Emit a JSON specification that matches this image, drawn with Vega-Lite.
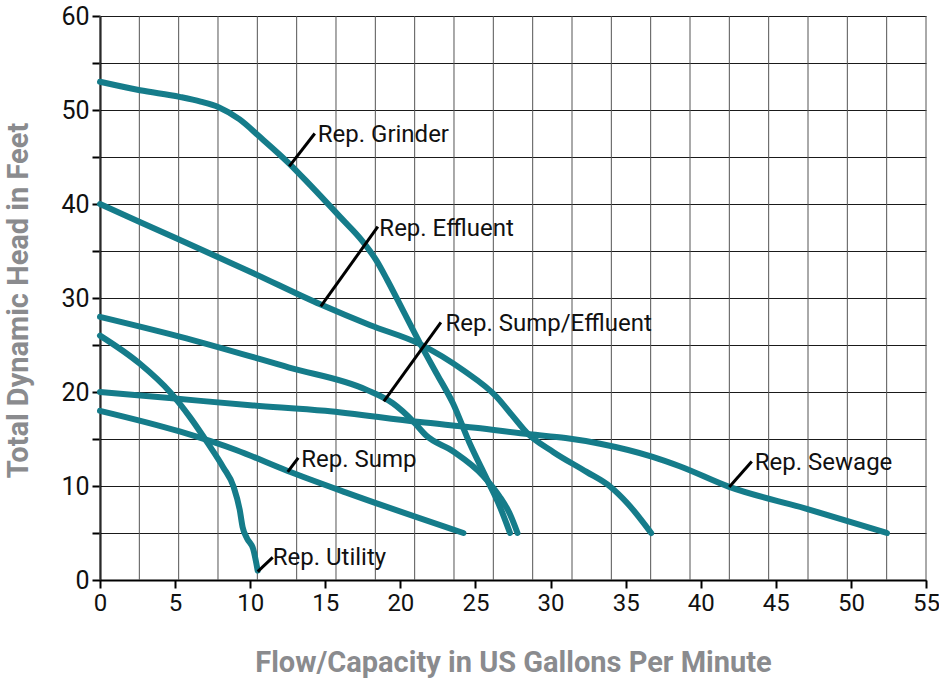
{
  "$schema": "https://vega.github.io/schema/vega-lite/v6.json",
  "width": 826,
  "height": 564,
  "autosize": "none",
  "padding": {"left": 100, "top": 16, "right": 13, "bottom": 99},
  "background": "white",
  "config": {"view": {"stroke": null}},
  "datasets": {
    "curves": [
      {"s": "Grinder", "x": 0, "y": 53}, {"s": "Grinder", "x": 2.66, "y": 52.1}, {"s": "Grinder", "x": 5.3, "y": 51.4}, {"s": "Grinder", "x": 6.7, "y": 50.9}, {"s": "Grinder", "x": 7.9, "y": 50.3}, {"s": "Grinder", "x": 9.3, "y": 49}, {"s": "Grinder", "x": 10.6, "y": 47.2}, {"s": "Grinder", "x": 12.6, "y": 44.3}, {"s": "Grinder", "x": 14, "y": 42}, {"s": "Grinder", "x": 16, "y": 38.6}, {"s": "Grinder", "x": 17.5, "y": 36}, {"s": "Grinder", "x": 18.4, "y": 34}, {"s": "Grinder", "x": 19.1, "y": 32}, {"s": "Grinder", "x": 20.2, "y": 28.6}, {"s": "Grinder", "x": 21.3, "y": 25.2}, {"s": "Grinder", "x": 22.4, "y": 22}, {"s": "Grinder", "x": 23.5, "y": 18.8}, {"s": "Grinder", "x": 24.6, "y": 14.6}, {"s": "Grinder", "x": 25.8, "y": 10.6}, {"s": "Grinder", "x": 26.6, "y": 7.9}, {"s": "Grinder", "x": 27.3, "y": 5},
      {"s": "Effluent", "x": 0, "y": 40}, {"s": "Effluent", "x": 5, "y": 36.4}, {"s": "Effluent", "x": 10, "y": 32.8}, {"s": "Effluent", "x": 14.7, "y": 29.3}, {"s": "Effluent", "x": 18, "y": 27.1}, {"s": "Effluent", "x": 21.3, "y": 25.1}, {"s": "Effluent", "x": 24.2, "y": 22.3}, {"s": "Effluent", "x": 26.4, "y": 19.5}, {"s": "Effluent", "x": 27.5, "y": 17.4}, {"s": "Effluent", "x": 28.4, "y": 15.7}, {"s": "Effluent", "x": 30.2, "y": 13.6}, {"s": "Effluent", "x": 32.4, "y": 11.5}, {"s": "Effluent", "x": 34, "y": 9.9}, {"s": "Effluent", "x": 35.1, "y": 8.2}, {"s": "Effluent", "x": 36.7, "y": 5},
      {"s": "SumpEffluent", "x": 0, "y": 28}, {"s": "SumpEffluent", "x": 5.3, "y": 25.9}, {"s": "SumpEffluent", "x": 12.6, "y": 22.6}, {"s": "SumpEffluent", "x": 17.8, "y": 20.2}, {"s": "SumpEffluent", "x": 19.5, "y": 18.8}, {"s": "SumpEffluent", "x": 20.9, "y": 16.8}, {"s": "SumpEffluent", "x": 21.7, "y": 15.4}, {"s": "SumpEffluent", "x": 23.5, "y": 13.7}, {"s": "SumpEffluent", "x": 25.5, "y": 11.1}, {"s": "SumpEffluent", "x": 26.6, "y": 8.9}, {"s": "SumpEffluent", "x": 27.3, "y": 7}, {"s": "SumpEffluent", "x": 27.8, "y": 5},
      {"s": "Sewage", "x": 0, "y": 20}, {"s": "Sewage", "x": 5, "y": 19.3}, {"s": "Sewage", "x": 10, "y": 18.6}, {"s": "Sewage", "x": 15, "y": 18}, {"s": "Sewage", "x": 21.3, "y": 16.8}, {"s": "Sewage", "x": 25, "y": 16.2}, {"s": "Sewage", "x": 28.6, "y": 15.5}, {"s": "Sewage", "x": 31, "y": 15.1}, {"s": "Sewage", "x": 33.3, "y": 14.5}, {"s": "Sewage", "x": 36.8, "y": 13.1}, {"s": "Sewage", "x": 38.6, "y": 12.1}, {"s": "Sewage", "x": 41.9, "y": 9.9}, {"s": "Sewage", "x": 47, "y": 7.6}, {"s": "Sewage", "x": 52.4, "y": 5},
      {"s": "Sump", "x": 0, "y": 18}, {"s": "Sump", "x": 5.3, "y": 15.8}, {"s": "Sump", "x": 9.1, "y": 13.8}, {"s": "Sump", "x": 12.5, "y": 11.6}, {"s": "Sump", "x": 16.4, "y": 9.3}, {"s": "Sump", "x": 24.2, "y": 5},
      {"s": "Utility", "x": 0, "y": 26}, {"s": "Utility", "x": 2.66, "y": 23}, {"s": "Utility", "x": 4.66, "y": 20}, {"s": "Utility", "x": 6, "y": 17.3}, {"s": "Utility", "x": 7.2, "y": 14.5}, {"s": "Utility", "x": 8.2, "y": 12}, {"s": "Utility", "x": 8.9, "y": 9.9}, {"s": "Utility", "x": 9.3, "y": 7.5}, {"s": "Utility", "x": 9.5, "y": 5.6}, {"s": "Utility", "x": 9.8, "y": 4.4}, {"s": "Utility", "x": 10.2, "y": 3.3}, {"s": "Utility", "x": 10.5, "y": 1}
    ],
    "vgrid": [
      {"gx": 0}, {"gx": 2.619}, {"gx": 5.238}, {"gx": 7.857}, {"gx": 10.476}, {"gx": 13.095}, {"gx": 15.714}, {"gx": 18.333}, {"gx": 20.952}, {"gx": 23.571}, {"gx": 26.19}, {"gx": 28.81}, {"gx": 31.429}, {"gx": 34.048}, {"gx": 36.667}, {"gx": 39.286}, {"gx": 41.905}, {"gx": 44.524}, {"gx": 47.143}, {"gx": 49.762}, {"gx": 52.381}, {"gx": 55}
    ],
    "labels": [
      {"label": "Rep. Grinder", "x1": 12.6, "y1": 44.0, "x2": 14.3, "y2": 47.5, "tx": 14.5, "ty": 47.3},
      {"label": "Rep. Effluent", "x1": 14.7, "y1": 29.1, "x2": 18.5, "y2": 37.6, "tx": 18.6, "ty": 37.3},
      {"label": "Rep. Sump/Effluent", "x1": 18.9, "y1": 19.0, "x2": 22.7, "y2": 27.4, "tx": 23.0, "ty": 27.2},
      {"label": "Rep. Sump", "x1": 12.5, "y1": 11.5, "x2": 13.2, "y2": 13.0, "tx": 13.4, "ty": 12.8},
      {"label": "Rep. Utility", "x1": 10.5, "y1": 0.9, "x2": 11.5, "y2": 2.4, "tx": 11.5, "ty": 2.3},
      {"label": "Rep. Sewage", "x1": 41.9, "y1": 9.9, "x2": 43.4, "y2": 12.6, "tx": 43.6, "ty": 12.5}
    ]
  },
  "layer": [
    {
      "data": {"name": "vgrid"},
      "mark": {"type": "rule", "stroke": "#555555", "strokeWidth": 1},
      "encoding": {
        "x": {"field": "gx", "type": "quantitative", "scale": {"domain": [0, 55], "nice": false}}
      }
    },
    {
      "data": {"name": "curves"},
      "mark": {"type": "line", "color": "#157c8a", "strokeWidth": 6, "strokeCap": "round", "strokeJoin": "round", "interpolate": "monotone"},
      "encoding": {
        "x": {
          "field": "x", "type": "quantitative",
          "scale": {"domain": [0, 55], "nice": false, "zero": false},
          "axis": {
            "title": "Flow/Capacity in US Gallons Per Minute",
            "values": [0, 5, 10, 15, 20, 25, 30, 35, 40, 45, 50, 55],
            "grid": false,
            "domainColor": "#000000", "domainWidth": 2,
            "tickColor": "#000000", "tickWidth": 2, "tickSize": 8,
            "labelFont": "Roboto, sans-serif",
            "labelFontSize": 24, "labelColor": "#111111", "labelPadding": 3,
            "labelFlush": false,
            "titleFont": "Roboto, sans-serif",
            "titleFontSize": 29, "titleFontWeight": "bold", "titleColor": "#8a8b8e",
            "titleX": 413, "titleY": 82, "titleBaseline": "middle"
          }
        },
        "y": {
          "field": "y", "type": "quantitative",
          "scale": {"domain": [0, 60], "nice": false},
          "axis": {
            "title": "Total Dynamic Head in Feet",
            "values": [0, 5, 10, 15, 20, 25, 30, 35, 40, 45, 50, 55, 60],
            "labelExpr": "datum.value % 10 === 0 ? datum.label : ''",
            "grid": true, "gridColor": "#1a1a1a", "gridWidth": 1, "gridOpacity": 1,
            "domainColor": "#000000", "domainWidth": 2,
            "tickColor": "#000000", "tickWidth": 2, "tickSize": 8,
            "labelFont": "Roboto, sans-serif",
            "labelFontSize": 25, "labelColor": "#111111", "labelPadding": 3,
            "labelFlush": false,
            "titleFont": "Roboto, sans-serif",
            "titleFontSize": 29, "titleFontWeight": "bold", "titleColor": "#8a8b8e",
            "titleX": -82, "titleY": 284, "titleBaseline": "middle", "titleAngle": -90
          }
        },
        "detail": {"field": "s", "type": "nominal"}
      }
    },
    {
      "data": {"name": "labels"},
      "mark": {"type": "rule", "stroke": "#000000", "strokeWidth": 3},
      "encoding": {
        "x": {"field": "x1", "type": "quantitative"},
        "y": {"field": "y1", "type": "quantitative"},
        "x2": {"field": "x2"},
        "y2": {"field": "y2"}
      }
    },
    {
      "data": {"name": "labels"},
      "mark": {"type": "text", "align": "left", "baseline": "middle", "fontSize": 24, "font": "Roboto, sans-serif", "color": "#111111"},
      "encoding": {
        "x": {"field": "tx", "type": "quantitative"},
        "y": {"field": "ty", "type": "quantitative"},
        "text": {"field": "label"}
      }
    }
  ]
}
